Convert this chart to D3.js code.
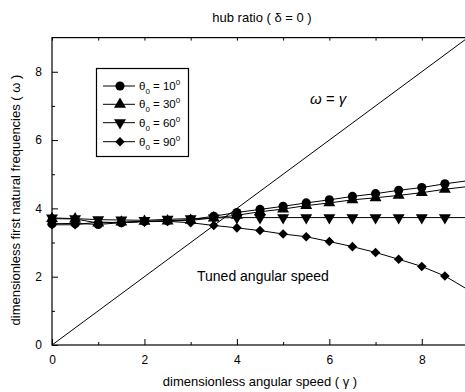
<!DOCTYPE html>
<html><head><meta charset="utf-8">
<script src="https://cdn.jsdelivr.net/npm/d3@7"></script>
<style>body{margin:0;background:#fff}svg{display:block}text{font-family:"Liberation Sans",Arial,sans-serif}</style>
</head><body><svg id="c" width="465" height="392"></svg>
<script>
const gammas = [0,0.5,1,1.5,2,2.5,3,3.5,4,4.5,5,5.5,6,6.5,7,7.5,8,8.5,9];
const theta10 = [3.55,3.56,3.53,3.58,3.62,3.64,3.67,3.77,3.88,3.97,4.06,4.16,4.25,4.35,4.43,4.53,4.61,4.72,4.81];
const theta30 = [3.70,3.69,3.57,3.60,3.62,3.63,3.65,3.72,3.80,3.90,3.98,4.08,4.16,4.25,4.31,4.38,4.46,4.56,4.64];
const theta60 = [3.72,3.70,3.67,3.66,3.65,3.68,3.70,3.72,3.73,3.73,3.73,3.73,3.73,3.73,3.73,3.73,3.73,3.73,3.73];
const theta90 = [3.52,3.52,3.60,3.58,3.61,3.62,3.58,3.50,3.43,3.35,3.25,3.17,3.03,2.88,2.71,2.51,2.30,2.02,1.62];
const seriesNames = ["10","30","60","90"];
const xTicks = [0,2,4,6,8];
const yTicks = [0,2,4,6,8];

const svg = d3.select("#c");
const L=52,R=468,T=37.6,B=345;
const x = d3.scaleLinear().domain([0,9]).range([L,R]);
const y = d3.scaleLinear().domain([0,9]).range([B,T]);

svg.append("rect").attr("x",L).attr("y",T).attr("width",R-L).attr("height",B-T)
  .attr("fill","none").attr("stroke","#000").attr("stroke-width",1.2);

svg.append("g").attr("transform",`translate(0,${B})`)
  .call(d3.axisBottom(x).tickValues(xTicks).tickSize(-6).tickPadding(10).tickFormat(d3.format("d")));
svg.append("g").attr("transform",`translate(0,${B})`)
  .call(d3.axisBottom(x).tickValues([1,3,5,7,9]).tickSize(-3).tickFormat(""));
svg.append("g").attr("transform",`translate(${L},0)`)
  .call(d3.axisLeft(y).tickValues(yTicks).tickSize(-6).tickPadding(10).tickFormat(d3.format("d")));
svg.append("g").attr("transform",`translate(${L},0)`)
  .call(d3.axisLeft(y).tickValues([1,3,5,7]).tickSize(-3).tickFormat(""));
svg.append("g").attr("transform",`translate(0,${T})`)
  .call(d3.axisTop(x).tickValues(d3.range(0,10)).tickSize(-3).tickFormat(""));
svg.selectAll(".domain").remove();
svg.selectAll(".tick line").attr("stroke","#000");
svg.selectAll(".tick text").attr("font-size",12).attr("fill","#000");

const diag = [0,9];
svg.append("path").datum(diag)
  .attr("d",d3.line().x(d=>x(d)).y(d=>y(d)))
  .attr("stroke","#000").attr("stroke-width",1).attr("fill","none");

const series = [theta10,theta30,theta60,theta90];
const symT = d3.symbol().type(d3.symbolTriangle).size(62);
const shapes = [
  {p:d3.symbol().type(d3.symbolCircle).size(66)(), rot:0},
  {p:symT(), rot:0},
  {p:symT(), rot:180},
  {p:d3.symbol().type(d3.symbolSquare).size(46)(), rot:45}
];
const line = d3.line().x((d,i)=>x(gammas[i])).y(d=>y(d));
svg.append("clipPath").attr("id","pc").append("rect")
  .attr("x",L).attr("y",T).attr("width",R-L).attr("height",B-T);
const plot = svg.append("g").attr("clip-path","url(#pc)");
const marks = svg.append("g");
series.forEach((s,k)=>{
  plot.append("path").datum(s).attr("d",line).attr("fill","none").attr("stroke","#000").attr("stroke-width",1);
  marks.selectAll(null).data(s.map((v,i)=>[gammas[i],v]).filter(d=>d[0]<=8.5)).enter()
    .append("path").attr("d",shapes[k].p)
    .attr("transform",d=>`translate(${x(d[0])},${y(d[1])}) rotate(${shapes[k].rot})`)
    .attr("fill","#000");
});

svg.append("text").attr("x",262).attr("y",22).attr("text-anchor","middle").attr("font-size",13)
  .text("hub ratio ( δ = 0 )");
svg.append("text").attr("x",260).attr("y",386).attr("text-anchor","middle").attr("font-size",13)
  .text("dimensionless angular speed ( γ )");
svg.append("text").attr("transform","translate(20,200) rotate(-90)").attr("text-anchor","middle").attr("font-size",13)
  .text("dimensionless first natural frequencies ( ω )");

svg.append("text").attr("x",310).attr("y",104).attr("font-size",15).attr("font-style","italic")
  .attr("font-family","Liberation Serif, Times New Roman, serif").text("ω = γ");
svg.append("text").attr("x",197).attr("y",281).attr("font-size",14).text("Tuned angular speed");

const lg = svg.append("g");
lg.append("rect").attr("x",96.5).attr("y",68.5).attr("width",92).attr("height",88)
  .attr("fill","#fff").attr("stroke","#000").attr("stroke-width",1.2);
const rowsY = [86,104.3,122.7,141.7];
seriesNames.forEach((n,k)=>{
  const ry = rowsY[k];
  lg.append("line").attr("x1",103).attr("x2",135).attr("y1",ry).attr("y2",ry).attr("stroke","#000");
  lg.append("path").attr("d",shapes[k].p).attr("transform",`translate(120,${ry}) rotate(${shapes[k].rot})`).attr("fill","#000");
  const t = lg.append("text").attr("x",139).attr("y",ry+4).attr("font-size",11.5);
  t.append("tspan").text("θ");
  t.append("tspan").attr("dy",4).attr("font-size",8).text("0");
  t.append("tspan").attr("dy",-4).text(" = "+n);
  t.append("tspan").attr("dy",-5).attr("font-size",8).text("0");
});
</script></body></html>
